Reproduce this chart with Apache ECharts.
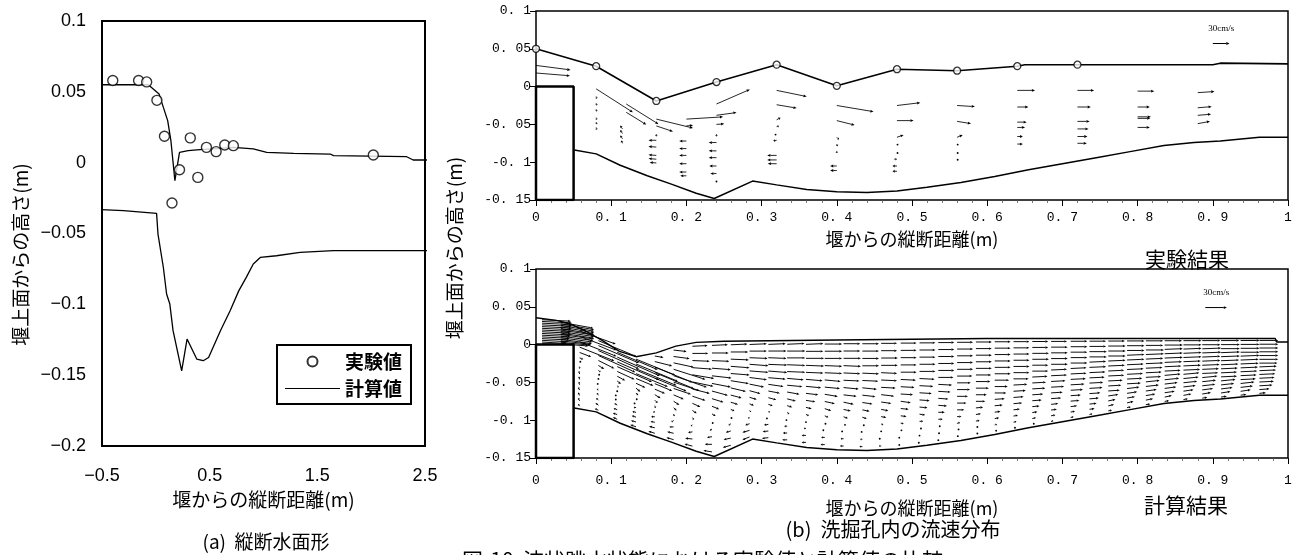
<!DOCTYPE html>
<html><head><meta charset="utf-8">
<script src="https://cdn.jsdelivr.net/npm/echarts@6/dist/echarts.min.js"></script>
<style>html,body{margin:0;padding:0;background:#fff}#c{width:1298px;height:555px}</style>
</head><body><div id="c"></div>
<script>
// ---------- (a) longitudinal water surface ----------
const aExpX = [-0.40,-0.16,-0.085,0.01,0.08,0.15,0.22,0.32,0.39,0.47,0.56,0.64,0.72,2.02];
const aExpY = [0.058,0.058,0.057,0.044,0.0186,-0.0285,-0.005,0.0175,-0.0104,0.0108,0.0078,0.0125,0.012,0.0054];
const aSurfX = [-0.55,-0.07,0.03,0.07,0.11,0.14,0.177,0.22,0.30,0.41,0.53,0.72,0.905,1.03,1.28,1.62,1.65,2.33,2.39,2.56];
const aSurfY = [0.055,0.055,0.0485,0.039,0.0297,0.0155,-0.0127,0.0073,0.0085,0.0092,0.0097,0.0108,0.0097,0.0073,0.0066,0.0061,0.005,0.0042,0.0019,0.0019];
const aBedX = [-0.55,-0.30,0.007,0.02,0.07,0.10,0.13,0.16,0.24,0.29,0.38,0.44,0.49,0.60,0.69,0.77,0.84,0.905,0.97,1.12,1.34,1.65,2.56];
const aBedY = [-0.033,-0.0339,-0.0358,-0.0504,-0.074,-0.0927,-0.0998,-0.1186,-0.147,-0.1245,-0.1386,-0.1398,-0.1375,-0.1186,-0.1045,-0.0905,-0.081,-0.0715,-0.0669,-0.0657,-0.0633,-0.0621,-0.0621];
const aXTicks = ['\u22120.5','0.5','1.5','2.5'];
const aYTicks = ['\u22120.2','\u22120.15','\u22120.1','\u22120.05','0','0.05','0.1'];

// ---------- (b) common geometry ----------
const weirX = [0,0,0.05,0.05,0];
const weirY = [-0.15,0,0,-0.15,-0.15];
const bedX = [0.051,0.08,0.112,0.148,0.18,0.213,0.237,0.288,0.32,0.36,0.40,0.44,0.48,0.52,0.565,0.61,0.655,0.70,0.745,0.79,0.835,0.875,0.91,0.962,1.0];
const bedY = [-0.084,-0.089,-0.104,-0.118,-0.129,-0.141,-0.148,-0.125,-0.13,-0.136,-0.139,-0.14,-0.138,-0.133,-0.127,-0.119,-0.11,-0.102,-0.094,-0.086,-0.078,-0.074,-0.072,-0.067,-0.067];
const bXTicks = ['0','0. 1','0. 2','0. 3','0. 4','0. 5','0. 6','0. 7','0. 8','0. 9','1'];
const bYTicks = ['-0. 15','-0. 1','-0. 05','0','0. 05','0. 1'];

// ---------- (b) experiment ----------
const expSurfX = [0,0.08,0.16,0.24,0.32,0.40,0.48,0.56,0.64,0.65,0.72,0.90,0.91,1.0];
const expSurfY = [0.05,0.027,-0.019,0.006,0.029,0.001,0.023,0.021,0.027,0.029,0.029,0.029,0.031,0.030];
const expPtX = [0,0.08,0.16,0.24,0.32,0.40,0.48,0.56,0.64,0.72];
const expPtY = [0.05,0.027,-0.019,0.006,0.029,0.001,0.023,0.021,0.027,0.029];
// measured vectors: [x, y, u (cm/s), v (cm/s)]
const expVec = [
 [0.0,0.028,62,-8],[0.0,0.018,61,-5],
 [0.08,-0.003,66,-42],[0.08,-0.013,1,-4],[0.08,-0.022,1,-4],[0.08,-0.030,1,-4],[0.08,-0.041,1,-4],[0.08,-0.047,1,-4],[0.08,-0.054,1,-4],
 [0.12,-0.023,58,-36],[0.12,-0.034,36,-22],[0.115,-0.056,-4,6],[0.115,-0.062,-4,6],[0.115,-0.069,-4,6],[0.115,-0.075,-2,5],
 [0.16,-0.043,66,-16],[0.16,-0.052,30,-10],[0.16,-0.063,0,-4],[0.16,-0.071,-14,0],[0.16,-0.080,-14,1],[0.16,-0.091,-14,1],[0.16,-0.096,-14,1],[0.16,-0.101,-12,1],
 [0.20,-0.043,66,4],[0.20,-0.052,12,1],[0.20,-0.072,-13,0],[0.20,-0.082,-13,0],[0.20,-0.091,-13,0],[0.20,-0.102,-13,0],[0.20,-0.113,-13,0],[0.20,-0.118,-11,0],
 [0.24,-0.023,60,26],[0.24,-0.038,36,5],[0.24,-0.050,14,1],[0.24,-0.063,0,-4],[0.24,-0.074,-14,0],[0.24,-0.085,-14,0],[0.24,-0.094,-14,0],[0.24,-0.105,-13,0],[0.24,-0.115,-11,0],[0.24,-0.124,0,-2],
 [0.32,-0.005,54,-11],[0.32,-0.024,36,-6],[0.32,-0.044,7,4],[0.32,-0.053,4,1],[0.32,-0.062,-2,-2],[0.32,-0.071,-6,-1],[0.32,-0.091,-17,0],[0.32,-0.097,-17,0],[0.32,-0.102,-16,0],
 [0.40,-0.025,66,-11],[0.40,-0.045,32,-8],[0.40,-0.067,4,-4],[0.40,-0.076,1,-4],[0.40,-0.085,0,-4],[0.40,-0.105,-12,0],[0.40,-0.111,-12,0],
 [0.48,-0.025,42,5],[0.48,-0.045,30,0],[0.48,-0.067,12,4],[0.48,-0.076,1,-1],[0.48,-0.087,1,-1],[0.48,-0.096,-5,0],[0.48,-0.105,-8,0],[0.48,-0.112,-8,0],
 [0.56,-0.025,32,-2],[0.56,-0.046,25,-4],[0.56,-0.067,10,4],[0.56,-0.076,1,-1],[0.56,-0.087,1,-1],[0.56,-0.096,1,-1],
 [0.64,-0.005,32,0],[0.64,-0.027,20,0],[0.64,-0.047,17,0],[0.64,-0.054,14,0],[0.64,-0.066,10,0],[0.64,-0.076,10,0],
 [0.72,-0.005,30,0],[0.72,-0.027,24,0],[0.72,-0.046,22,0],[0.72,-0.056,20,0],[0.72,-0.066,18,0],[0.72,-0.075,17,0],
 [0.80,-0.006,30,0],[0.80,-0.027,22,0],[0.80,-0.040,24,0],[0.80,-0.042,23,0],[0.80,-0.054,22,0],
 [0.88,-0.008,30,2],[0.88,-0.028,25,2],[0.88,-0.038,24,2],[0.88,-0.049,22,4]
];
const keyTop = [0.90,0.057,30,0];
const SCALE_TOP = 0.00074;   // axis metres per cm/s (reference arrow, upper panel)

// ---------- (b) calculation ----------
const calcSurfX = [0,0.027,0.044,0.066,0.089,0.111,0.133,0.16,0.186,0.213,0.25,0.4,0.6,0.8,0.983,0.985,1.0];
const calcSurfY = [0.0355,0.032,0.028,0.018,0.005,-0.009,-0.016,-0.011,-0.002,0.003,0.0045,0.006,0.008,0.008,0.008,0.0035,0.0035];
const calcColX = [0.008,0.033,0.058,0.083,0.108,0.133,0.158,0.183,0.208,0.234,0.259,0.284,0.309,0.334,0.359,0.384,0.409,0.434,0.459,0.485,0.510,0.535,0.560,0.585,0.610,0.635,0.660,0.685,0.711,0.736,0.761,0.786,0.811,0.836,0.861,0.886,0.911,0.937,0.962];
const calcTop = [0.034,0.0305,0.0215,0.0085,-0.007,-0.016,-0.0115,-0.003,0.0025,0.004,0.0045,0.0045,0.0047,0.005,0.005,0.0055,0.006,0.006,0.0065,0.0068,0.007,0.0073,0.0075,0.0078,0.008,0.008,0.008,0.008,0.008,0.008,0.008,0.008,0.008,0.008,0.008,0.008,0.008,0.008,0.008];
const calcBot = [0,0,-0.085,-0.090,-0.102,-0.112,-0.121,-0.130,-0.139,-0.147,-0.138,-0.1265,-0.1275,-0.1305,-0.134,-0.137,-0.139,-0.1398,-0.139,-0.1375,-0.1345,-0.131,-0.1265,-0.123,-0.119,-0.115,-0.1095,-0.1055,-0.100,-0.096,-0.091,-0.0865,-0.0825,-0.078,-0.0755,-0.0735,-0.072,-0.0695,-0.067];
// horizontal velocity (cm/s), 15 layers surface -> bed, per column
const calcU = [
 [40,41,41,41,41,41,40,40,40,39,38,38,36,34,32],
 [45,46,46,46,46,46,46,46,46,45,44,43,42,41,38],
 [50,51,51,48,16,5,1,0,-1,-1,-1,-2,-2,-2,-2],
 [53,56,56,51,22,8,3,1,0,-1,-2,-2,-3,-4,-5],
 [56,59,58,48,24,11,5,2,0,-2,-2,-4,-5,-6,-6],
 [54,58,56,44,24,13,6,3,1,-2,-3,-5,-6,-7,-8],
 [12,24,52,54,44,24,14,8,4,1,-2,-5,-6,-8,-9],
 [18,22,28,44,46,36,24,14,8,4,1,-3,-6,-9,-10],
 [21,22,24,27,30,29,24,18,11,6,2,-2,-6,-10,-11],
 [22,23,24,26,27,26,22,16,10,5,1,-3,-7,-10,-12],
 [23,24,25,26,26,25,21,15,10,5,1,-3,-7,-10,-11],
 [24,24,25,26,26,24,20,15,10,6,2,-2,-6,-10,-10],
 [24,25,25,26,26,24,21,16,11,6,2,-2,-6,-8,-9],
 [24,25,25,25,25,23,21,17,12,7,3,-1,-4,-6,-7],
 [24,24,25,25,24,23,21,17,13,8,4,0,-3,-6,-6],
 [24,24,24,24,24,22,21,18,14,9,5,1,-2,-5,-6],
 [23,23,24,24,23,22,21,18,14,10,6,2,-2,-4,-5],
 [23,23,23,23,23,22,20,18,14,10,6,2,-1,-3,-4],
 [22,22,23,23,22,22,20,18,14,10,7,3,0,-2,-3],
 [22,22,22,22,22,21,19,17,14,11,8,4,1,-2,-2],
 [22,22,22,22,22,21,19,17,14,11,8,5,2,0,-1],
 [22,22,22,22,22,21,19,17,14,12,9,6,2,1,0],
 [22,22,22,22,22,21,19,18,15,13,10,6,4,2,1],
 [22,22,22,22,22,21,20,18,15,13,10,7,5,2,2],
 [22,22,22,22,22,22,20,18,16,14,11,8,6,3,2],
 [22,22,22,22,22,22,21,19,17,14,12,9,6,4,2],
 [22,22,23,23,22,22,21,19,18,15,13,10,7,5,2],
 [22,23,23,23,23,22,22,20,18,16,14,10,8,6,3],
 [23,23,23,23,23,22,22,21,19,17,14,12,9,6,4],
 [23,23,24,24,23,23,22,21,19,18,15,13,10,7,4],
 [23,24,24,24,24,23,22,22,20,18,16,14,10,8,5],
 [24,24,24,24,24,23,23,22,21,19,17,14,11,9,5],
 [24,24,25,25,24,24,23,22,21,19,18,15,13,10,6],
 [24,25,25,25,25,24,23,22,22,20,18,16,14,10,6],
 [25,25,25,25,25,24,24,23,22,21,19,17,14,11,6],
 [25,25,26,26,25,25,24,23,22,21,19,18,15,12,7],
 [25,26,26,26,26,25,24,23,22,22,20,18,16,13,8],
 [26,26,26,26,26,25,25,24,23,22,21,19,17,14,8],
 [26,26,26,26,26,26,25,24,23,22,21,20,18,14,9]
];
// vertical velocity (cm/s)
const calcV = [
 [-2,-2,-2,-2,-2,-2,-2,-2,-2,-2,-2,-2,-2,-2,-1],
 [-8,-8,-8,-8,-8,-7,-7,-7,-6,-6,-6,-6,-5,-4,-3],
 [-18,-19,-20,-19,-6,-2,2,3,4,4,4,4,4,4,3],
 [-22,-24,-25,-23,-11,-5,-2,1,2,2,2,3,3,3,2],
 [-24,-26,-25,-21,-11,-6,-4,-2,-1,0,1,2,2,2,3],
 [-22,-24,-23,-18,-10,-6,-5,-3,-2,-1,0,1,2,2,3],
 [-2,-6,-21,-22,-18,-10,-6,-5,-4,-3,-2,0,1,2,3],
 [-2,-3,-6,-14,-16,-12,-8,-6,-5,-4,-3,-2,0,2,3],
 [1,0,-1,-2,-5,-6,-6,-6,-5,-4,-3,-2,-1,1,3],
 [1,0,-1,-2,-3,-5,-6,-5,-4,-3,-2,-2,-1,0,2],
 [1,0,-1,-2,-2,-4,-5,-4,-3,-2,-2,-2,-2,-2,-3],
 [1,0,-1,-2,-2,-3,-4,-4,-3,-2,-2,-2,-2,-3,-4],
 [1,0,-1,-1,-2,-2,-3,-3,-3,-2,-2,-1,-1,-1,-1],
 [1,0,0,-1,-1,-2,-2,-3,-3,-2,-2,-1,0,0,0],
 [1,0,0,-1,-1,-2,-2,-2,-2,-2,-2,-1,0,0,0],
 [0,0,0,-1,-1,-2,-2,-3,-3,-3,-2,-1,0,0,0],
 [0,0,0,-1,-1,-1,-2,-2,-3,-2,-2,-1,0,0,0],
 [0,0,0,0,-1,-1,-2,-2,-2,-2,-2,-1,0,0,0],
 [0,0,0,0,-1,-1,-1,-2,-2,-2,-1,-1,0,0,0],
 [0,0,0,0,0,-1,-1,-1,-2,-1,-1,-1,0,0,0],
 [0,0,0,0,0,-1,-1,-1,-1,-1,-1,0,0,0,0],
 [0,0,0,0,0,0,-1,-1,-1,-1,0,0,0,0,0],
 [0,0,0,0,0,0,0,0,0,0,0,0,1,1,1],
 [0,0,0,0,0,0,0,0,0,0,1,1,1,1,1],
 [0,0,0,0,0,0,0,0,0,1,1,1,1,1,1],
 [0,0,0,0,0,0,0,1,1,1,1,1,1,1,1],
 [0,0,0,0,0,0,1,1,1,1,1,1,1,1,1],
 [0,0,0,0,0,1,1,1,1,1,1,1,1,1,1],
 [0,0,0,0,0,1,1,1,1,1,1,1,1,1,1],
 [0,0,0,0,1,1,1,1,1,1,1,1,1,1,1],
 [0,0,0,0,1,1,1,1,1,1,1,2,2,2,1],
 [0,0,0,1,1,1,1,1,1,1,2,2,2,2,1],
 [0,0,0,1,1,1,1,1,1,2,2,2,2,2,1],
 [0,0,1,1,1,1,1,1,2,2,2,2,2,2,1],
 [0,0,1,1,1,1,1,1,2,2,2,2,2,2,1],
 [0,0,1,1,1,1,1,1,1,2,2,2,2,2,1],
 [0,0,0,1,1,1,1,1,1,1,2,2,2,2,1],
 [0,0,0,0,1,1,1,1,1,1,1,2,2,2,1],
 [0,0,0,0,0,0,0,1,1,1,1,1,1,1,1]
];
const keyBottom = [0.89,0.049,30,0];
const SCALE_BOTTOM = 0.000962; // axis metres per cm/s (reference arrow, lower panel)

// ---------- build ----------
const zip = (xs, ys) => xs.map((x, i) => [x, ys[i]]);
const calcVec = [];
calcColX.forEach((x, k) => {
  const n = calcU[k].length;
  for (let j = 0; j < n; j++) {
    const y = calcTop[k] + (j + 0.5) / n * (calcBot[k] - calcTop[k]);
    calcVec.push([x, y, calcU[k][j], calcV[k][j]]);
  }
});
const pick = (arr, min, step) => v => arr[Math.round((v - min) / step)] ?? '';
const CJK = '"Noto Sans CJK JP", sans-serif';

function arrowShapes(p0, p1, lw, hl0, hw) {
  const dx = p1[0] - p0[0], dy = p1[1] - p0[1];
  const len = Math.hypot(dx, dy);
  if (len < 2) return [{type:'circle', shape:{cx:p1[0], cy:p1[1], r:0.95}, style:{fill:'#000'}}];
  const ux = dx / len, uy = dy / len;
  const hl = Math.min(hl0, len * 0.5);
  const bx = p1[0] - ux * hl, by = p1[1] - uy * hl;
  return [
    {type:'line', shape:{x1:p0[0], y1:p0[1], x2:bx, y2:by}, style:{stroke:'#000', lineWidth:lw}},
    {type:'polygon', shape:{points:[[p1[0], p1[1]], [bx - uy * hw, by + ux * hw], [bx + uy * hw, by - ux * hw]]}, style:{fill:'#000'}}
  ];
}
const vecRender = (scale, lw, hl, hw) => (params, api) => {
  const x = api.value(0), y = api.value(1), u = api.value(2), v = api.value(3);
  const p0 = api.coord([x, y]);
  const p1 = api.coord([x + u * scale, y + v * scale]);
  return {type:'group', children: arrowShapes(p0, p1, lw, hl, hw)};
};
const keyRender = scale => (params, api) => {
  const x = api.value(0), y = api.value(1), u = api.value(2), v = api.value(3);
  const p0 = api.coord([x, y]);
  const p1 = api.coord([x + u * scale, y + v * scale]);
  const ch = arrowShapes(p0, p1, 1, 3.2, 1.4);
  ch.push({type:'text', x:(p0[0] + p1[0]) / 2, y:p0[1] - 15,
    style:{text:'30cm/s', fontSize:9, fontFamily:'"Liberation Serif", serif', fill:'#000', align:'center', verticalAlign:'middle'}});
  return {type:'group', children: ch};
};

const bx = (gi, gap, nameGap) => ({
  gridIndex: gi, type:'value', min:0, max:1, interval:0.1,
  axisLine:{show:false, onZero:false}, splitLine:{show:false},
  axisTick:{show:true, inside:false, length:6, lineStyle:{color:'#000', width:1}},
  minorTick:{show:true, splitNumber:5, length:3, lineStyle:{color:'#555', width:0.8}},
  axisLabel:{formatter:pick(bXTicks, 0, 0.1), color:'#000', fontSize:13, fontFamily:'"Liberation Mono", monospace', margin:gap},
  name:'堰からの縦断距離(m)', nameLocation:'middle', nameGap:nameGap,
  nameTextStyle:{fontSize:18, fontFamily:CJK, color:'#000'}
});
const by = gi => ({
  gridIndex: gi, type:'value', min:-0.15, max:0.1, interval:0.05,
  axisLine:{show:false, onZero:false}, splitLine:{show:false},
  axisTick:{show:true, inside:false, length:6, lineStyle:{color:'#000', width:1}},
  axisLabel:{formatter:pick(bYTicks, -0.15, 0.05), color:'#000', fontSize:13, fontFamily:'"Liberation Mono", monospace', margin:5}
});
const blackLine = (name, xi, data, w) => ({
  type:'line', name, xAxisIndex:xi, yAxisIndex:xi, data, symbol:'none', silent:true,
  lineStyle:{color:'#000', width:w}, z:3
});

const option = {
  animation:false,
  backgroundColor:'#fff',
  grid:[
    {left:102, top:21, width:323, height:425, show:true, borderColor:'#000', borderWidth:2, backgroundColor:'transparent'},
    {left:536, top:11, width:752, height:189, show:true, borderColor:'#000', borderWidth:1.5, backgroundColor:'transparent'},
    {left:536, top:269, width:752, height:189, show:true, borderColor:'#000', borderWidth:1.5, backgroundColor:'transparent'}
  ],
  legend:{
    left:277, top:345, orient:'vertical', selectedMode:false,
    data:[{name:'実験値'}, {name:'計算値', icon:'path://M0,0 L100,0 L100,2.2 L0,2.2 Z'}],
    itemWidth:55, itemHeight:10, itemGap:8, padding:[7,9,6,8],
    borderColor:'#000', borderWidth:2, borderRadius:0, backgroundColor:'#fff',
    textStyle:{fontSize:19, fontFamily:CJK, color:'#000', fontWeight:'bold'}
  },
  xAxis:[
    {gridIndex:0, type:'value', min:-0.5, max:2.5, interval:1,
     axisLine:{show:false, onZero:false}, axisTick:{show:false}, splitLine:{show:false},
     axisLabel:{formatter:pick(aXTicks, -0.5, 1), color:'#000', fontSize:18, fontFamily:'"Liberation Sans", Arial, sans-serif', margin:21},
     name:'堰からの縦断距離(m)', nameLocation:'middle', nameGap:37,
     nameTextStyle:{fontSize:19, fontFamily:CJK, color:'#000'}},
    bx(1, 11, 30),
    bx(2, 16, 41)
  ],
  yAxis:[
    {gridIndex:0, type:'value', min:-0.2, max:0.1, interval:0.05,
     axisLine:{show:false, onZero:false}, axisTick:{show:false}, splitLine:{show:false},
     axisLabel:{formatter:pick(aYTicks, -0.2, 0.05), color:'#000', fontSize:18, fontFamily:'"Liberation Sans", Arial, sans-serif', margin:16},
     name:'堰上面からの高さ(m)', nameLocation:'middle', nameGap:72,
     nameTextStyle:{fontSize:19, fontFamily:CJK, color:'#000', padding:[0,42,0,0]}},
    by(1), by(2)
  ],
  graphic:[
    {type:'text', x:455, y:248, rotation:Math.PI/2, silent:true,
     style:{text:'堰上面からの高さ(m)', fontSize:19, fontFamily:CJK, fill:'#000', align:'center', verticalAlign:'middle'}},
    {type:'text', x:1187, y:259, silent:true,
     style:{text:'実験結果', fontSize:21, fontFamily:CJK, fill:'#000', align:'center', verticalAlign:'middle'}},
    {type:'text', x:1186, y:505, silent:true,
     style:{text:'計算結果', fontSize:21, fontFamily:CJK, fill:'#000', align:'center', verticalAlign:'middle'}},
    {type:'text', x:893, y:529, silent:true,
     style:{text:'(b)  洗掘孔内の流速分布', fontSize:20, fontFamily:CJK, fill:'#000', align:'center', verticalAlign:'middle'}},
    {type:'text', x:266, y:542, silent:true,
     style:{text:'(a)  縦断水面形', fontSize:19, fontFamily:CJK, fill:'#000', align:'center', verticalAlign:'middle'}},
    {type:'text', x:462, y:550, silent:true,
     style:{text:'図-10  波状跳水状態における実験値と計算値の比較', fontSize:21, fontFamily:CJK, fill:'#000', align:'left', verticalAlign:'top'}}
  ],
  series:[
    // (a)
    {type:'line', name:'計算値', xAxisIndex:0, yAxisIndex:0, data:zip(aSurfX, aSurfY), symbol:'none', clip:false,
     lineStyle:{color:'#000', width:1.3}, itemStyle:{color:'#000'}, z:2},
    {type:'line', name:'計算値', xAxisIndex:0, yAxisIndex:0, data:zip(aBedX, aBedY), symbol:'none', clip:false,
     lineStyle:{color:'#000', width:1.3}, itemStyle:{color:'#000'}, z:2},
    {type:'scatter', name:'実験値', xAxisIndex:0, yAxisIndex:0, data:zip(aExpX, aExpY), symbol:'circle', symbolSize:10,
     itemStyle:{color:'#fff', borderColor:'#000', borderWidth:1.4}, z:4},
    // (b) experiment
    blackLine('堰', 1, zip(weirX, weirY), 2.5),
    blackLine('河床', 1, zip(bedX, bedY), 1.5),
    blackLine('実験水面', 1, zip(expSurfX, expSurfY), 1.6),
    {type:'scatter', name:'実験水位', xAxisIndex:1, yAxisIndex:1, data:zip(expPtX, expPtY), symbol:'circle', symbolSize:7,
     itemStyle:{color:'#fff', borderColor:'#000', borderWidth:1.3}, z:5, silent:true},
    {type:'custom', name:'実験流速', xAxisIndex:1, yAxisIndex:1, data:expVec, renderItem:vecRender(SCALE_TOP, 0.85, 3.2, 1.4), silent:true, z:4},
    {type:'custom', name:'凡例1', xAxisIndex:1, yAxisIndex:1, data:[keyTop], renderItem:keyRender(SCALE_TOP), silent:true, z:4},
    // (b) calculation
    blackLine('堰2', 2, zip(weirX, weirY), 2.5),
    blackLine('河床2', 2, zip(bedX, bedY), 1.5),
    blackLine('計算水面', 2, zip(calcSurfX, calcSurfY), 1.4),
    {type:'custom', name:'計算流速', xAxisIndex:2, yAxisIndex:2, data:calcVec, renderItem:vecRender(SCALE_BOTTOM, 0.95, 2.8, 1.2), silent:true, z:4},
    {type:'custom', name:'凡例2', xAxisIndex:2, yAxisIndex:2, data:[keyBottom], renderItem:keyRender(SCALE_BOTTOM), silent:true, z:4}
  ]
};
const chart = echarts.init(document.getElementById('c'), null, {renderer:'canvas'});
chart.setOption(option);
</script></body></html>
